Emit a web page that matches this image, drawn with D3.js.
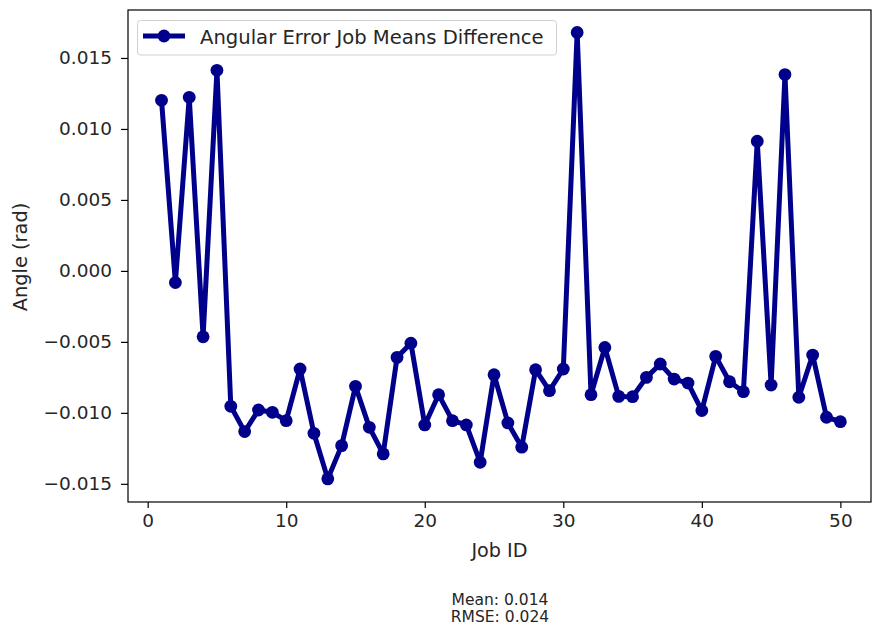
<!DOCTYPE html>
<html>
<head>
<meta charset="utf-8">
<script src="https://cdn.jsdelivr.net/npm/d3@7"></script>
<style>
  html, body { margin: 0; padding: 0; background: #fff; }
  svg { display: block; }
  text { font-family: "DejaVu Sans", sans-serif; fill: #262626; }
</style>
</head>
<body>
<svg id="chart" width="873" height="630"></svg>
<script>
// Job IDs and the per-job difference of angular error means (rad)
const jobIds = d3.range(1, 51);
const meanDiff = [
  0.01202, -0.00082, 0.01223, -0.00464, 0.01413, -0.00954, -0.01132, -0.00980, -0.00996, -0.01055,
  -0.00691, -0.01144, -0.01465, -0.01231, -0.00813, -0.01102, -0.01289, -0.00609, -0.00509, -0.01085,
  -0.00872, -0.01055, -0.01085, -0.01348, -0.00731, -0.01071, -0.01242, -0.00696, -0.00844, -0.00691,
  0.01680, -0.00872, -0.00539, -0.00884, -0.00886, -0.00750, -0.00656, -0.00762, -0.00790, -0.00984,
  -0.00602, -0.00781, -0.00851, 0.00914, -0.00804, 0.01383, -0.00890, -0.00593, -0.01031, -0.01062
];
const xTicks = [0, 10, 20, 30, 40, 50];
const yTicks = [-0.015, -0.010, -0.005, 0.000, 0.005, 0.010, 0.015];
const seriesLabel = "Angular Error Job Means Difference";
const statsLines = ["Mean: 0.014", "RMSE: 0.024"];

const color = "#00008b";
const plot = { left: 128, right: 871, top: 10, bottom: 502 };

const svg = d3.select("#chart");

const x = d3.scaleLinear().domain([-1.42, 52.21]).range([plot.left, plot.right]);
const y = d3.scaleLinear().domain([-0.01628, 0.01838]).range([plot.bottom, plot.top]);

// axes
const xAxis = d3.axisBottom(x).tickValues(xTicks).tickFormat(d3.format("d"))
  .tickSizeInner(6).tickSizeOuter(0).tickPadding(6);
const yAxis = d3.axisLeft(y).tickValues(yTicks).tickFormat(d3.format(".3f"))
  .tickSizeInner(7).tickSizeOuter(0).tickPadding(9);

const gx = svg.append("g").attr("transform", `translate(0,${plot.bottom})`).call(xAxis);
const gy = svg.append("g").attr("transform", `translate(${plot.left},0)`).call(yAxis);
[gx, gy].forEach(g => {
  g.select(".domain").remove();
  g.selectAll(".tick line").attr("stroke", "#000").attr("stroke-width", 1.2);
  g.selectAll(".tick text").attr("font-size", 18.5).attr("font-family", "DejaVu Sans").attr("fill", "#262626");
});
gy.selectAll(".tick text").text(d => d3.format(".3f")(d).replace("-", "\u2212"));

// line + markers
const pts = jobIds.map((id, i) => [id, meanDiff[i]]);
const line = d3.line().x(d => x(d[0])).y(d => y(d[1]));
svg.append("path").datum(pts)
  .attr("d", line)
  .attr("fill", "none")
  .attr("stroke", color)
  .attr("stroke-width", 5)
  .attr("stroke-linejoin", "round");
svg.append("g").selectAll("circle").data(pts).join("circle")
  .attr("cx", d => x(d[0])).attr("cy", d => y(d[1]))
  .attr("r", 6.4).attr("fill", color);

// frame
svg.append("rect")
  .attr("x", plot.left).attr("y", plot.top)
  .attr("width", plot.right - plot.left).attr("height", plot.bottom - plot.top)
  .attr("fill", "none").attr("stroke", "#000").attr("stroke-width", 1.2);

// legend
const lg = svg.append("g");
lg.append("rect").attr("x", 137.5).attr("y", 20.5).attr("width", 419).attr("height", 34.5)
  .attr("rx", 3).attr("fill", "#fff").attr("fill-opacity", 0.8)
  .attr("stroke", "#d0d0d0").attr("stroke-width", 1);
lg.append("line").attr("x1", 143).attr("x2", 185).attr("y1", 36).attr("y2", 36)
  .attr("stroke", color).attr("stroke-width", 5);
lg.append("circle").attr("cx", 164).attr("cy", 36).attr("r", 6.4).attr("fill", color);
lg.append("text").attr("x", 200).attr("y", 43.5).attr("font-size", 19.6).text(seriesLabel);

// axis labels
svg.append("text").attr("x", (plot.left + plot.right) / 2).attr("y", 557)
  .attr("text-anchor", "middle").attr("font-size", 19.2).text("Job ID");
svg.append("text").attr("transform", "translate(27,257) rotate(-90)")
  .attr("text-anchor", "middle").attr("font-size", 19.4).text("Angle (rad)");

// summary statistics
svg.append("g").selectAll("text").data(statsLines).join("text")
  .attr("x", 500).attr("y", (d, i) => 605 + i * 16.5)
  .attr("text-anchor", "middle").attr("font-size", 15.5).text(d => d);
</script>
</body>
</html>
